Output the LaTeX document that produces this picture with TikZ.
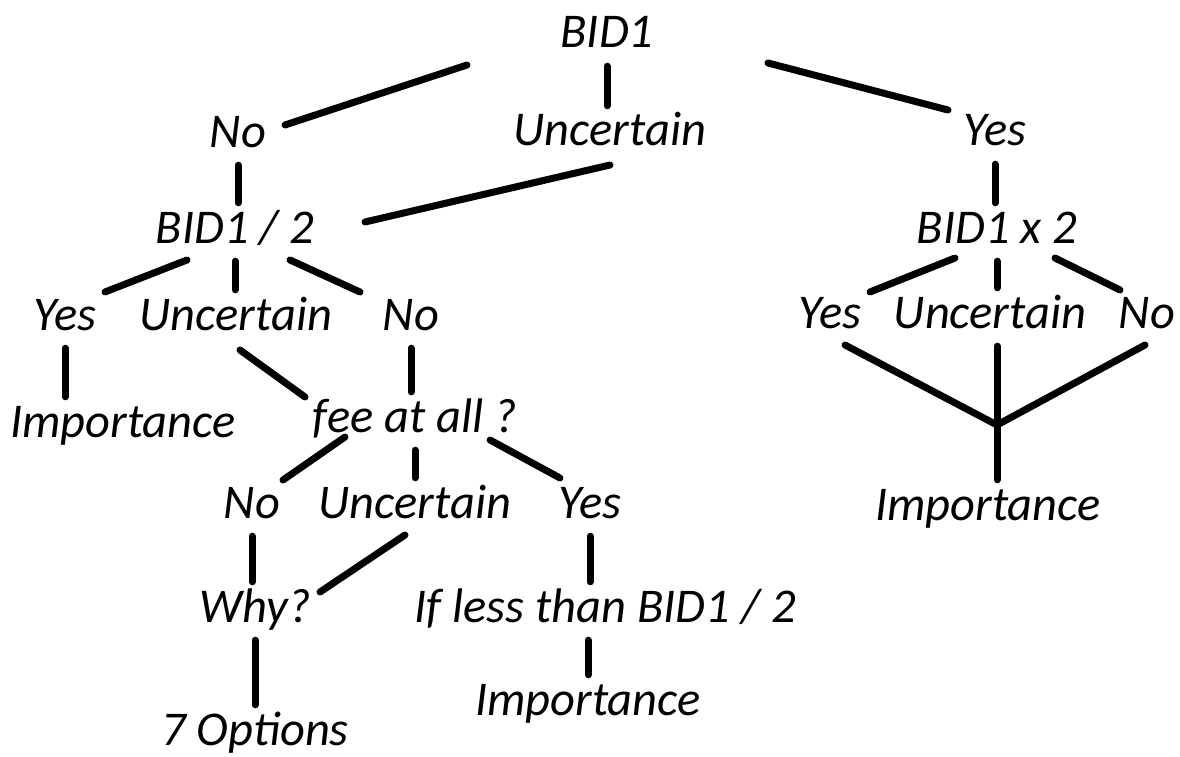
\documentclass[tikz,border=0pt]{standalone}
\usepackage{fontspec}
\setmainfont{Carlito}
\usetikzlibrary{calc}

\begin{document}
\begin{tikzpicture}[x=1pt,y=-1pt,
  lbl/.style={font=\fontsize{48.5}{52}\selectfont\itshape,inner sep=10pt,text height=30pt,text depth=8pt},
  edge/.style={line width=7pt,line cap=round}]
\useasboundingbox (0,0) rectangle (1180,757);
% first question
\node[lbl] (bid) at (607,37) {BID1};
\node[lbl] (no1) at (238,136) {No};
\node[lbl] (unc1) at (610,135) {Uncertain};
\node[lbl] (yes1) at (995,135) {Yes};
% follow-up bids
\node[lbl] (half) at (235,232) {BID1 / 2};
\node[lbl] (dbl) at (997,232) {BID1 x 2};
\node[lbl] (yes2) at (65,319) {Yes};
\node[lbl] (unc2) at (236,319) {Uncertain};
\node[lbl] (no2) at (411,319) {No};
\node[lbl] (yes3) at (830,317) {Yes};
\node[lbl] (unc3) at (990,317) {Uncertain};
\node[lbl] (no3) at (1147,317) {No};
\node[lbl] (imp1) at (123,426) {Importance};
\node[lbl] (fee) at (415,421) {fee at all ?};
\coordinate (join) at (997,425);
\node[lbl] (imp2) at (988,509) {Importance};
% fee branch
\node[lbl] (no4) at (252,507) {No};
\node[lbl] (unc4) at (415,507) {Uncertain};
\node[lbl] (yes4) at (590,507) {Yes};
\node[lbl] (why) at (255,611) {Why?};
\node[lbl] (less) at (605,611) {If less than BID1 / 2};
\node[lbl] (opt) at (255,734) {7 Options};
\node[lbl] (imp3) at (588,704) {Importance};

\draw[edge] ([shift={(-140,28)}]bid.center) -- ([shift={(47,-11)}]no1.center);
\draw[edge] (bid.south) -- (bid.south |- unc1.north);
\draw[edge] ([shift={(161,26)}]bid.center) -- ([shift={(-47,-25)}]yes1.center);
\draw[edge] (no1.south) -- (no1.south |- half.north);
\draw[edge] ([shift={(0,30)}]unc1.center) -- ([shift={(130,-10)}]half.center);
\draw[edge] (yes1.south) -- (yes1.south |- dbl.north);
\draw[edge] ([shift={(-48,28)}]half.center) -- ([shift={(40,-27)}]yes2.center);
\draw[edge] (half.south) -- (half.south |- unc2.north);
\draw[edge] ([shift={(55,28)}]half.center) -- ([shift={(-51,-27)}]no2.center);
\draw[edge] (yes2.south) -- (yes2.south |- imp1.north);
\draw[edge] ([shift={(4,31)}]unc2.center) -- ([shift={(-110,-24)}]fee.center);
\draw[edge] (no2.south) -- (no2.south |- fee.north);
\draw[edge] ([shift={(-42,26)}]dbl.center) -- ([shift={(40,-25)}]yes3.center);
\draw[edge] (dbl.south) -- (dbl.south |- unc3.north);
\draw[edge] ([shift={(58,26)}]dbl.center) -- ([shift={(-27,-27)}]no3.center);
\draw[edge] ([shift={(15,28)}]yes3.center) -- (join);
\draw[edge] (join |- unc3.south) -- (join);
\draw[edge] ([shift={(-2,28)}]no3.center) -- (join);
\draw[edge] (join) -- (join |- imp2.north);
\draw[edge] ([shift={(-70,16)}]fee.center) -- ([shift={(31,-27)}]no4.center);
\draw[edge] (fee.south) -- (fee.south |- unc4.north);
\draw[edge] ([shift={(75,19)}]fee.center) -- ([shift={(-30,-29)}]yes4.center);
\draw[edge] (no4.south) -- (no4.south |- why.north);
\draw[edge] ([shift={(-10,28)}]unc4.center) -- ([shift={(65,-19)}]why.center);
\draw[edge] (yes4.south) -- (yes4.south |- less.north);
\draw[edge] (why.south) -- (why.south |- opt.north);
\draw[edge] (imp3.north |- less.south) -- (imp3.north);
\end{tikzpicture}
\end{document}
